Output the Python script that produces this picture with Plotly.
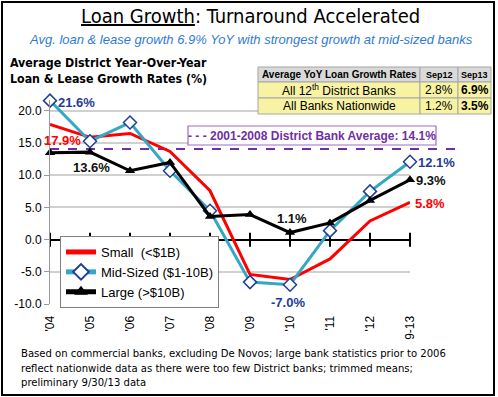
import plotly.graph_objects as go

# ---------------- data ----------------
years = ["'04", "'05", "'06", "'07", "'08", "'09", "'10", "'11", "'12", "9-13"]
small = [17.9, 15.9, 16.5, 13.7, 7.6, -5.4, -6.2, -3.0, 2.9, 5.8]
mid_sized = [21.6, 15.3, 18.2, 10.7, 4.5, -6.6, -7.0, 1.4, 7.5, 12.1]
large = [13.5, 13.6, 10.7, 12.0, 3.6, 3.9, 1.1, 2.6, 6.1, 9.3]
district_avg = 14.1
y_ticks = [-10, -5, 0, 5, 10, 15, 20]

table_header = ["Average YoY Loan Growth Rates", "Sep12", "Sep13"]
table_labels = ["All 12<sup>th</sup> District Banks", "All Banks Nationwide"]
sep12_rates = ["2.8%", "1.2%"]
sep13_rates = ["6.9%", "3.5%"]

# ---------------- geometry helpers ----------------
W, H = 498, 397
ML, MR, MT, MB = 50, 88, 100, 93
PW, PH = W - ML - MR, H - MT - MB


def px(xp):
    return (xp - ML) / PW


def py(yp):
    return (H - MB - yp) / PH


ARIAL = "Liberation Sans, Arial, sans-serif"
TAHOMA = "DejaVu Sans Condensed, DejaVu Sans, sans-serif"
RED = "#ff0000"
TEAL = "#33a8c6"
NAVY = "#1f3d99"
PURPLE = "#7030a0"

fig = go.Figure()

# tick marks on the zero axis line
fig.add_trace(go.Scatter(
    x=years, y=[0] * len(years), mode="markers",
    marker=dict(symbol="line-ns", size=10, line=dict(width=2, color="black")),
    showlegend=False, hoverinfo="skip", cliponaxis=False))

fig.add_trace(go.Scatter(
    x=years, y=small, name="Small  (<$1B)", mode="lines",
    line=dict(color=RED, width=3), cliponaxis=False))
fig.add_trace(go.Scatter(
    x=years, y=mid_sized, name="Mid-Sized ($1-10B)", mode="lines+markers",
    line=dict(color=TEAL, width=3),
    marker=dict(symbol="diamond", size=10, color="white", line=dict(color=NAVY, width=1.5)),
    cliponaxis=False))
fig.add_trace(go.Scatter(
    x=years, y=large, name="Large (>$10B)", mode="lines+markers",
    line=dict(color="black", width=3),
    marker=dict(symbol="triangle-up", size=9, color="black"),
    cliponaxis=False))

shapes = []
annotations = []


def note(x, y, text, font, xanchor="center", yanchor="middle", **kw):
    d = dict(xref="paper", yref="paper", x=x, y=y, text=text, showarrow=False,
             xanchor=xanchor, yanchor=yanchor, font=font)
    d.update(kw)
    annotations.append(d)


# district average dashed line
shapes.append(dict(type="line", xref="paper", yref="y", x0=0, x1=px(460),
                   y0=district_avg, y1=district_avg,
                   line=dict(color=PURPLE, width=2, dash="dash"), layer="below"))
# average label box
shapes.append(dict(type="rect", xref="paper", yref="paper", x0=px(188), x1=px(436),
                   y0=py(145), y1=py(126), fillcolor="white",
                   line=dict(color="#9b6fc9", width=1.2), layer="above"))
note(px(312), py(135.5), "<b>- - - 2001-2008 District Bank Average: %.1f%%</b>" % district_avg,
     dict(family=ARIAL, size=12, color=PURPLE))


# data labels
def dlabel(xi, yv, color, xs, ys):
    annotations.append(dict(x=years[xi], y=yv, xref="x", yref="y", text="<b>%.1f%%</b>" % yv,
                            showarrow=False, xshift=xs, yshift=ys, xanchor="center", yanchor="middle",
                            font=dict(family=ARIAL, size=13, color=color)))


dlabel(0, mid_sized[0], NAVY, 26, -2)
dlabel(0, small[0], RED, 12, -16)
dlabel(1, large[1], "#111111", 1, -15)
dlabel(6, large[6], "#111111", 2, 14)
dlabel(6, mid_sized[6], NAVY, -2, -18)
dlabel(9, mid_sized[9], NAVY, 26, -1)
dlabel(9, large[9], "#111111", 21, -1)
dlabel(9, small[9], RED, 20, -1)

# table
cols = [258, 420, 458, 491]
rows = [67, 82, 98, 114]
for r in range(3):
    for c in range(3):
        fill = "#d9d9d9" if r == 0 else "#f7f3a3"
        shapes.append(dict(type="rect", xref="paper", yref="paper",
                           x0=px(cols[c]), x1=px(cols[c + 1]), y0=py(rows[r + 1]), y1=py(rows[r]),
                           fillcolor=fill, line=dict(color="#a6a6a6", width=1), layer="above"))
for c, t in enumerate(table_header):
    note(px((cols[c] + cols[c + 1]) / 2), py((rows[0] + rows[1]) / 2), "<b>%s</b>" % t,
         dict(family=ARIAL, size=10 if c == 0 else 9, color="black"))
for r in range(2):
    yc = py((rows[r + 1] + rows[r + 2]) / 2)
    note(px((cols[0] + cols[1]) / 2), yc, table_labels[r], dict(family=ARIAL, size=12, color="black"))
    note(px((cols[1] + cols[2]) / 2), yc, sep12_rates[r], dict(family=ARIAL, size=12, color="black"))
    note(px((cols[2] + cols[3]) / 2), yc, "<b>%s</b>" % sep13_rates[r],
         dict(family=ARIAL, size=12, color="black"))

# titles
note(px(250), py(16), "<u>Loan Growth</u>: Turnaround Accelerated",
     dict(family=TAHOMA, size=20, color="black"))
note(px(251), py(40),
     "<i>Avg. loan &amp; lease growth 6.9% YoY with strongest growth at mid-sized banks</i>",
     dict(family=ARIAL, size=13, color="#2e7bd6"))
note(px(8), py(71), "<b>Average District Year-Over-Year<br>Loan &amp; Lease Growth Rates (%)</b>",
     dict(family=TAHOMA, size=12.3, color="black"), xanchor="left", align="left")
note(px(19), py(368),
     "Based on commercial banks, excluding De Novos; large bank statistics prior to 2006<br>"
     "reflect nationwide data as there were too few District banks; trimmed means;<br>"
     "preliminary 9/30/13 data",
     dict(family=TAHOMA, size=11.2, color="black"), xanchor="left", align="left")

# outer frame
shapes.append(dict(type="rect", xref="paper", yref="paper", x0=px(2), x1=px(494), y0=py(395),
                   y1=py(2), line=dict(color="black", width=2), layer="above"))

fig.update_layout(
    width=W, height=H, margin=dict(l=ML, r=MR, t=MT, b=MB),
    paper_bgcolor="white", plot_bgcolor="white",
    shapes=shapes, annotations=annotations,
    showlegend=True,
    legend=dict(x=px(60), y=py(236), xanchor="left", yanchor="top",
                bgcolor="white", bordercolor="#808080", borderwidth=1,
                font=dict(family=ARIAL, size=13, color="black"),
                tracegroupgap=0, itemwidth=30, itemsizing="constant"),
    xaxis=dict(type="category", range=[0, len(years) - 1], showgrid=False, showline=False,
               tickangle=-90, ticks="outside", ticklen=6, tickcolor="rgba(0,0,0,0)",
               tickfont=dict(family=ARIAL, size=12, color="black"), zeroline=False),
    yaxis=dict(range=[-10, 21.7], tickvals=y_ticks, ticktext=["%.1f" % v for v in y_ticks],
               showgrid=True, gridcolor="#d0d0d0", gridwidth=1.5,
               showline=True, linecolor="#999999", linewidth=1,
               ticks="outside", ticklen=5, tickcolor="#999999",
               zeroline=True, zerolinecolor="black", zerolinewidth=2,
               tickfont=dict(family=ARIAL, size=12, color="black")),
)

fig.write_html("out.html", post_script="document.body.style.margin='0';",
               config={"displayModeBar": False})
